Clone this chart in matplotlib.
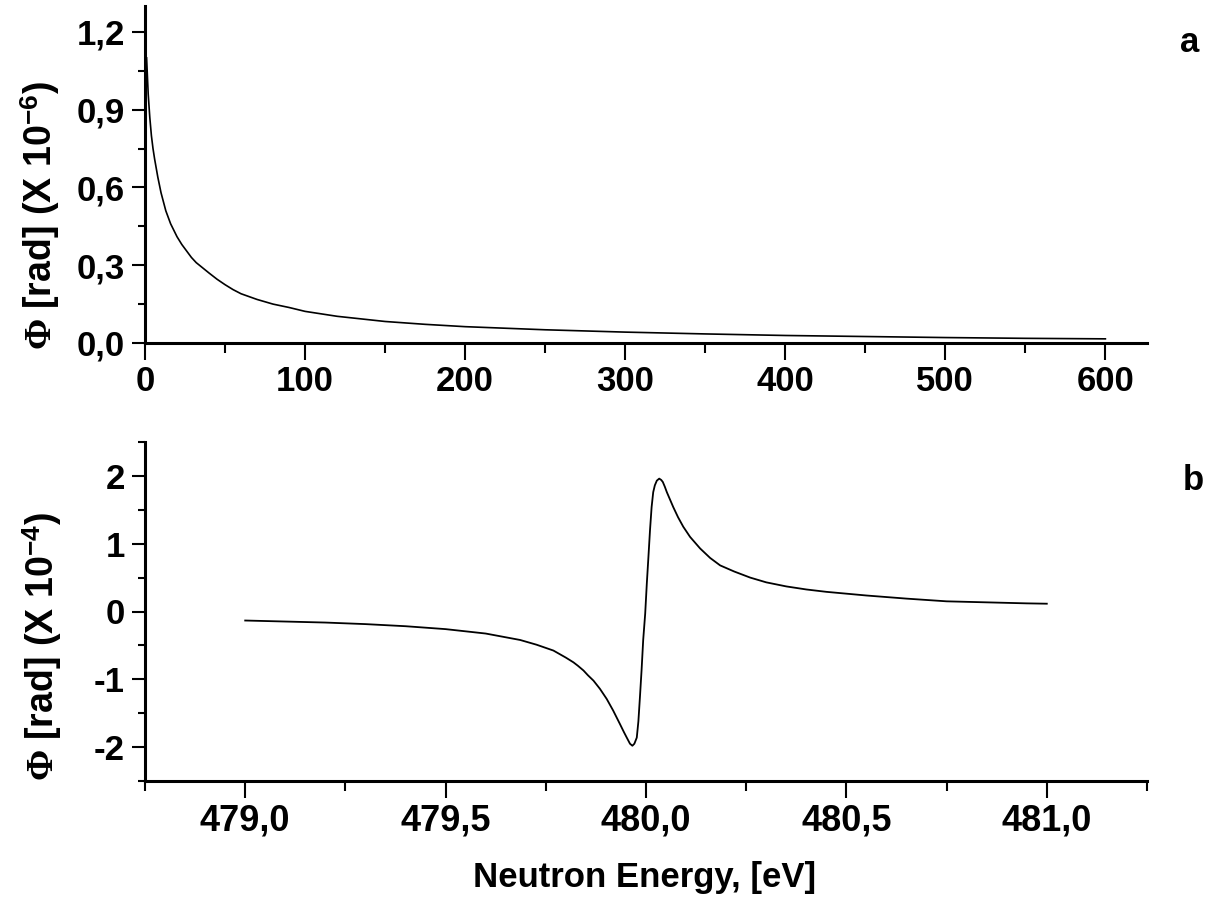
import matplotlib
matplotlib.use("Agg")
import matplotlib.pyplot as plt
from matplotlib.ticker import MultipleLocator, FixedLocator, FixedFormatter

plt.rcParams['font.family'] = ['Liberation Sans', 'DejaVu Sans']
plt.rcParams['font.weight'] = 'bold'
plt.rcParams['mathtext.fontset'] = 'custom'
plt.rcParams['mathtext.rm'] = 'Liberation Serif'
plt.rcParams['mathtext.it'] = 'Liberation Serif'
plt.rcParams['mathtext.bf'] = 'Liberation Sans:bold'
plt.rcParams['mathtext.sf'] = 'Liberation Sans:bold'

# ---------------- data ----------------
energy_a = [1, 2, 3, 4, 5, 6, 8, 10, 13, 16, 20, 23, 26, 29, 32, 36, 40, 45,
            50, 55, 60, 70, 80, 90, 100, 120, 150, 175, 200, 250, 300, 350,
            400, 450, 500, 550, 600]
phase_a = [1.10, 0.96, 0.87, 0.80, 0.75, 0.71, 0.64, 0.58, 0.51, 0.46, 0.41,
           0.38, 0.355, 0.33, 0.31, 0.29, 0.27, 0.246, 0.225, 0.206, 0.19,
           0.168, 0.15, 0.137, 0.122, 0.103, 0.083, 0.072, 0.063, 0.051,
           0.042, 0.035, 0.029, 0.025, 0.021, 0.018, 0.016]

energy_b = [479.0, 479.1, 479.2, 479.3, 479.4, 479.5, 479.6, 479.686, 479.727,
            479.769, 479.80, 479.819, 479.83, 479.844, 479.855, 479.869,
            479.885, 479.902, 479.918, 479.935, 479.945, 479.952, 479.960,
            479.966, 479.971, 479.977, 479.981, 479.985, 479.989, 479.993,
            479.998, 480.002, 480.006, 480.010, 480.014, 480.018, 480.022,
            480.027, 480.033, 480.038, 480.042, 480.047, 480.052, 480.060,
            480.068, 480.08, 480.093, 480.11, 480.135, 480.16, 480.185,
            480.22, 480.26, 480.30, 480.35, 480.40, 480.45, 480.55, 480.65,
            480.75, 480.85, 480.95, 481.0]
phase_b = [-0.133, -0.148, -0.163, -0.186, -0.217, -0.26, -0.325, -0.42, -0.49,
           -0.576, -0.68, -0.75, -0.80, -0.87, -0.94, -1.02,
           -1.14, -1.29, -1.46, -1.66, -1.78, -1.86, -1.95,
           -1.98, -1.95, -1.86, -1.62, -1.25, -0.86, -0.42,
           -0.03, 0.41, 0.80, 1.20, 1.54, 1.76, 1.86,
           1.93, 1.96, 1.94, 1.91, 1.84, 1.76, 1.65,
           1.54, 1.39, 1.25, 1.10, 0.93, 0.79, 0.68,
           0.59, 0.50, 0.43, 0.37, 0.325, 0.29, 0.236, 0.19,
           0.15, 0.135, 0.12, 0.115]

xticks_a = [0, 100, 200, 300, 400, 500, 600]
xticklabels_a = ['0', '100', '200', '300', '400', '500', '600']
yticks_a = [0.0, 0.3, 0.6, 0.9, 1.2]
yticklabels_a = ['0,0', '0,3', '0,6', '0,9', '1,2']

xticks_b = [479.0, 479.5, 480.0, 480.5, 481.0]
xticklabels_b = ['479,0', '479,5', '480,0', '480,5', '481,0']
yticks_b = [-2, -1, 0, 1, 2]
yticklabels_b = ['-2', '-1', '0', '1', '2']

ylabel_a = r"$\Phi$ [rad] (X 10$^{\mathbf{-6}}$)"
ylabel_b = r"$\Phi$ [rad] (X 10$^{\mathbf{-4}}$)"
xlabel_b = "Neutron Energy, [eV]"

# ---------------- figure ----------------
W, H = 1213, 915
fig = plt.figure(figsize=(W / 100, H / 100), dpi=100)


def rect(l, t, r, b):
    return [l / W, 1 - b / H, (r - l) / W, (b - t) / H]


ax1 = fig.add_axes(rect(145, 6, 1147, 343))
ax2 = fig.add_axes(rect(145, 442, 1147, 781))


def style(ax, xt, xtl, yt, ytl, xminor, yminor, xsize):
    for s in ('top', 'right'):
        ax.spines[s].set_visible(False)
    for s in ('left', 'bottom'):
        ax.spines[s].set_linewidth(2.2)
    ax.xaxis.set_major_locator(FixedLocator(xt))
    ax.xaxis.set_major_formatter(FixedFormatter(xtl))
    ax.yaxis.set_major_locator(FixedLocator(yt))
    ax.yaxis.set_major_formatter(FixedFormatter(ytl))
    ax.xaxis.set_minor_locator(MultipleLocator(xminor))
    ax.yaxis.set_minor_locator(MultipleLocator(yminor))
    ax.tick_params(axis='x', which='major', direction='out', length=12,
                   width=1.5, labelsize=xsize, pad=4)
    ax.tick_params(axis='x', which='minor', direction='out', length=7,
                   width=1.5)
    ax.tick_params(axis='y', which='major', direction='out', length=9.5,
                   width=1.5, labelsize=25, pad=5)
    ax.tick_params(axis='y', which='minor', direction='out', length=5,
                   width=1.5)
    for lab in ax.get_xticklabels() + ax.get_yticklabels():
        lab.set_fontweight('bold')


ax1.plot(energy_a, phase_a, color='black', lw=1.2, solid_joinstyle='round')
ax1.set_xlim(0, 626)
ax1.set_ylim(0, 1.3)
style(ax1, xticks_a, xticklabels_a, yticks_a, yticklabels_a, 50, 0.15, 25)

ax2.plot(energy_b, phase_b, color='black', lw=1.3, solid_joinstyle='round')
ax2.set_xlim(478.75, 481.25)
ax2.set_ylim(-2.5, 2.5)
style(ax2, xticks_b, xticklabels_b, yticks_b, yticklabels_b, 0.25, 0.5, 26)

fig.text(40 / W, 1 - 216 / H, ylabel_a, rotation=90, ha='center',
         va='center', fontsize=27, fontweight='bold')
fig.text(42 / W, 1 - 647 / H, ylabel_b, rotation=90, ha='center',
         va='center', fontsize=27, fontweight='bold')
fig.text(645 / W, 1 - 878 / H, xlabel_b, ha='center', va='center',
         fontsize=25, fontweight='bold')

fig.text(1190 / W, 1 - 42 / H, 'a', ha='center', va='center',
         fontsize=25, fontweight='bold')
fig.text(1193 / W, 1 - 480 / H, 'b', ha='center', va='center',
         fontsize=25, fontweight='bold')

fig.savefig('out.png', dpi=100)
